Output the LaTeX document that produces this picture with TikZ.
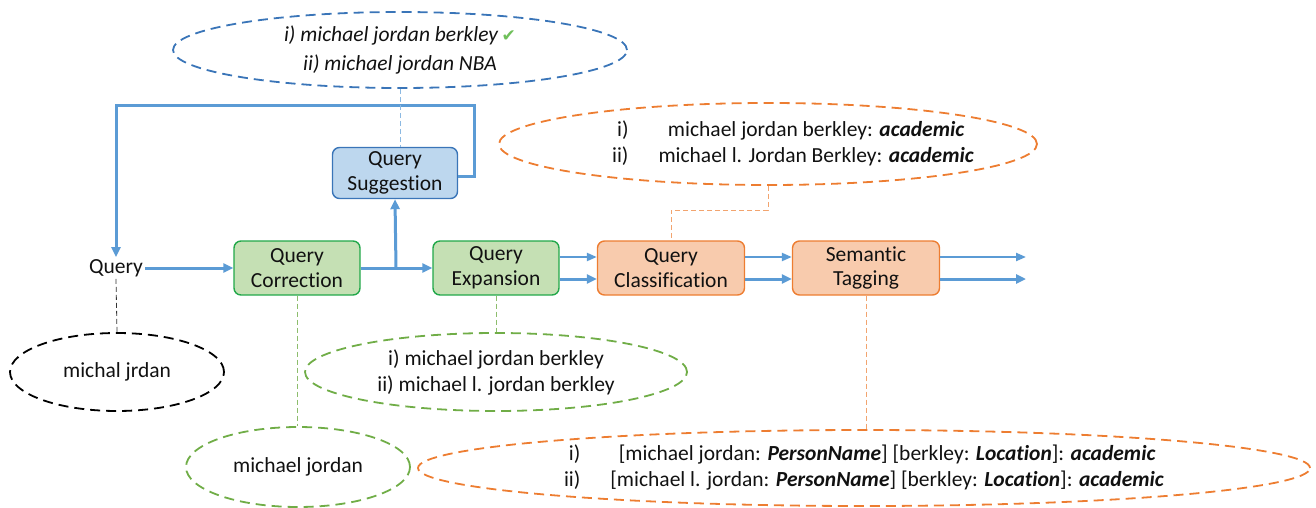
\documentclass[tikz,border=0pt]{standalone}
\usepackage{fontspec}
\setmainfont[RawFeature=-liga]{Carlito}
\newfontfamily\symfont{DejaVu Sans}
\usetikzlibrary{shapes.geometric,arrows.meta}
\definecolor{flowblue}{HTML}{5B9BD5}
\definecolor{bluefill}{HTML}{BDD7EE}
\definecolor{blueline}{HTML}{3A75B8}
\definecolor{greenfill}{HTML}{C5E0B4}
\definecolor{greenline}{HTML}{22A84A}
\definecolor{greendash}{HTML}{70AD47}
\definecolor{orangefill}{HTML}{F8CBAD}
\definecolor{orangeline}{HTML}{ED7D31}
\definecolor{txt}{HTML}{111111}
\definecolor{checkgreen}{HTML}{6FBF5A}
\begin{document}
\begin{tikzpicture}[x=1pt,y=-1pt,
  every node/.style={text=txt},
  box/.style={draw, rounded corners=7pt, line width=1.4pt, minimum height=54pt,
    align=center, inner sep=0pt, font=\fontsize{21.5}{24.5}\selectfont},
  greenbox/.style={box, fill=greenfill, draw=greenline, minimum width=126pt},
  orangebox/.style={box, fill=orangefill, draw=orangeline, minimum width=147pt},
  bluebox/.style={box, fill=bluefill, draw=blueline, minimum width=125pt, minimum height=51pt},
  oval/.style={ellipse, inner sep=0pt, line width=1.8pt, dash pattern=on 10pt off 6pt,
    align=center, font=\fontsize{21.5}{26}\selectfont},
  flow/.style={draw=flowblue, line width=3pt},
  arr/.style={flow, -{Triangle[length=10pt,width=9pt]}},
  thinarr/.style={draw=flowblue, line width=2.2pt, -{Triangle[length=10pt,width=8pt]}},
  conn/.style={line width=0.8pt, dash pattern=on 5pt off 3pt}
]
\useasboundingbox (0,0) rectangle (1316,508);

% main nodes
\node[font=\fontsize{21.5}{24.5}\selectfont, inner sep=2pt] (q) at (116,268) {Query};
\node[greenbox] (qc) at (297,268) {Query\\Correction};
\node[greenbox] (qe) at (496,268) {Query\\Expansion};
\node[orangebox] (qcl) at (671,268) {Query\\Classification};
\node[orangebox] (st) at (866,268) {Semantic\\Tagging};
\node[bluebox] (qs) at (395,173) {Query\\Suggestion};

% annotation ellipses
\node[oval, draw=blueline, minimum width=454pt, minimum height=76pt,
      font=\fontsize{21.5}{29}\selectfont] (sell) at (400,50)
  {\itshape i) michael jordan berkley\,{\symfont\color{checkgreen}\fontsize{17}{17}\selectfont ✔}\\\itshape ii) michael jordan NBA};
\node[oval, draw=orangeline, minimum width=538pt, minimum height=82pt] (cell) at (768,144)
  {\begin{tabular}{r@{\hspace{30pt}}c@{\hspace{-44pt}}}
   i) & michael jordan berkley: \textbf{\textit{academic}}\\
   ii) & michael l. Jordan Berkley: \textbf{\textit{academic}}
   \end{tabular}};
\node[oval, draw=greendash, minimum width=382pt, minimum height=78pt] (eell) at (496,372)
  {i) michael jordan berkley\\ii) michael l. jordan berkley};
\node[oval, draw=black, minimum width=214pt, minimum height=78pt] (qell) at (117,372)
  {michal jrdan};
\node[oval, draw=greendash, minimum width=224pt, minimum height=80pt] (cell2) at (298,467)
  {michael jordan};
\node[oval, draw=orangeline, minimum width=892pt, minimum height=76pt] (tell) at (864,468)
  {\begin{tabular}{r@{\hspace{30pt}}c}
   i) & [michael jordan: \textbf{\textit{PersonName}}] [berkley: \textbf{\textit{Location}}]: \textbf{\textit{academic}}\\
   ii) & [michael l. jordan: \textbf{\textit{PersonName}}] [berkley: \textbf{\textit{Location}}]: \textbf{\textit{academic}}
   \end{tabular}};

% coordinates
\coordinate (br) at (396,268);
\coordinate (loopR) at (474,106);
\coordinate (oc) at (768,210);
\coordinate (out1) at (1026,257);
\coordinate (out2) at (1026,279);

% flow arrows
\draw[arr] (q.east) -- (qc.west);
\draw[arr] (qc.east) -- (qe.west);
\draw[arr] (br) -- (qs.south);
\draw[flow, -{Triangle[length=10pt,width=9pt]}] ([yshift=-3pt]qs.east) -| (loopR) -| (q.north);
\draw[thinarr] ([yshift=11pt]qe.east) -- ([yshift=11pt]qcl.west);
\draw[arr] ([yshift=-11pt]qe.east) -- ([yshift=-11pt]qcl.west);
\draw[thinarr] ([yshift=11pt]qcl.east) -- ([yshift=11pt]st.west);
\draw[arr] ([yshift=-11pt]qcl.east) -- ([yshift=-11pt]st.west);
\draw[thinarr] ([yshift=11pt]st.east) -- (out1);
\draw[arr] ([yshift=-11pt]st.east) -- (out2);

% dashed annotation connectors
\draw[conn, draw=flowblue!70] (sell.south) -- (sell.south |- qs.north);
\draw[conn, draw=orangeline!70] (cell.south) -- (oc) -| (qcl.north);
\draw[conn, draw=greendash!80] (qe.south) -- (eell.north);
\draw[conn, draw=black!80] (q.south) -- (qell.north);
\draw[conn, draw=greendash!80] (qc.south) -- (qc.south |- cell2.north);
\draw[conn, draw=orangeline!70] (st.south) -- (st.south |- tell.north);
\end{tikzpicture}
\end{document}
